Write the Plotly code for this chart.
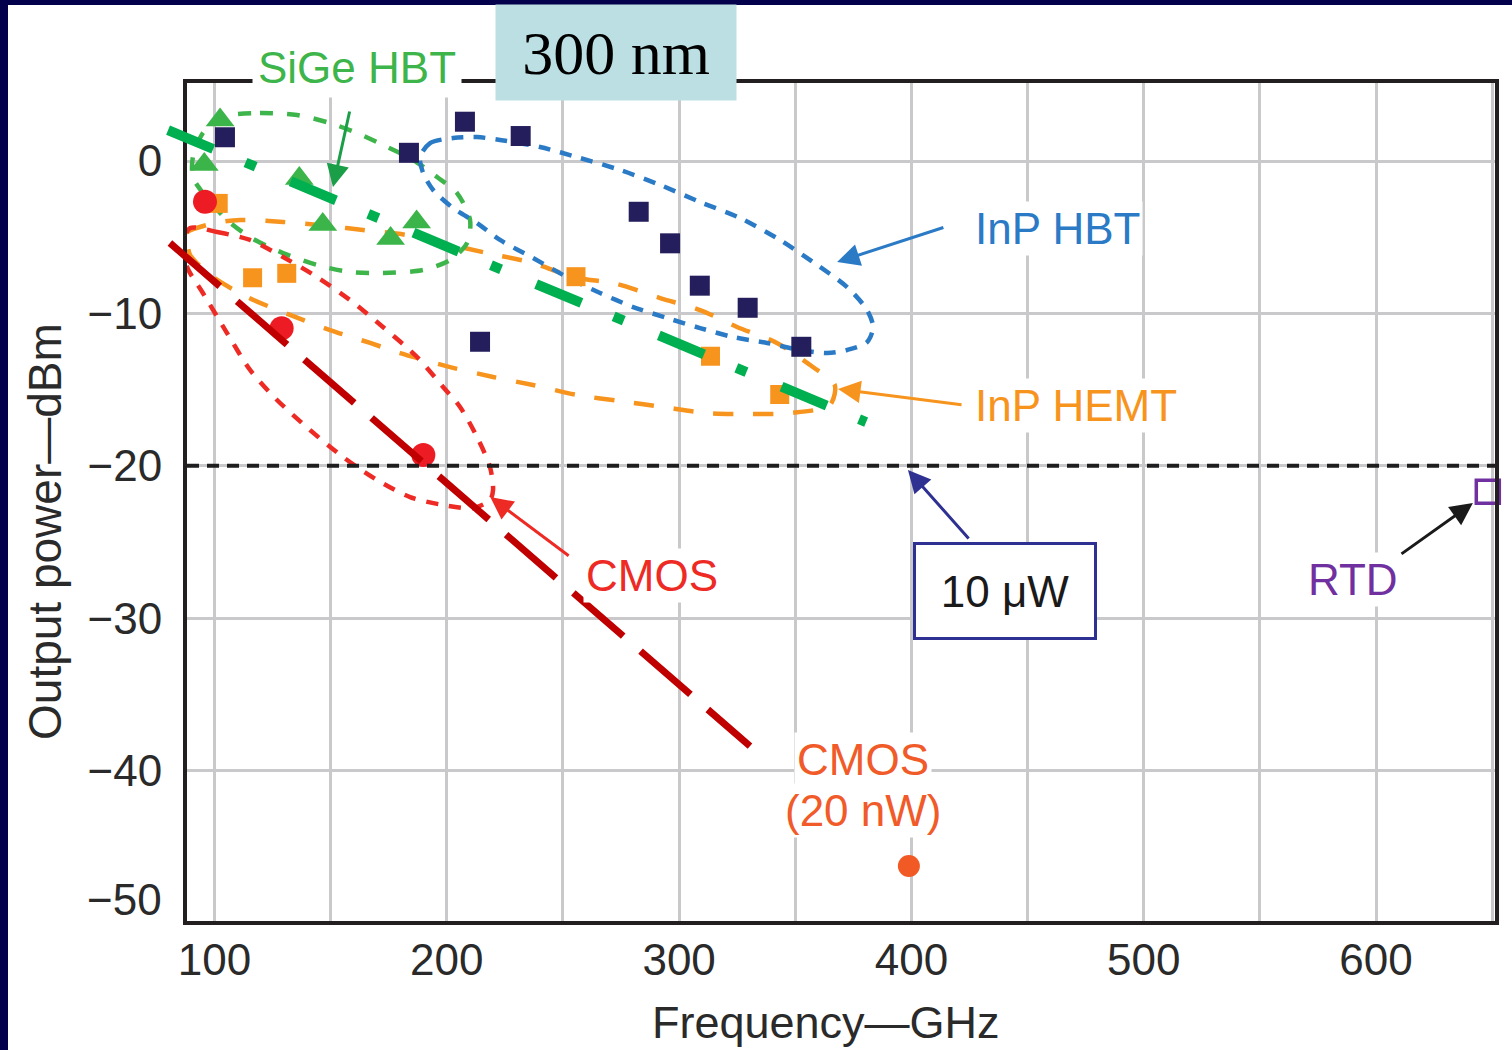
import plotly.graph_objects as go

# ---------------- data ----------------
# InP HBT (navy squares)
hbt_freq = [104.5, 183.7, 207.8, 231.8, 282.6, 296.1, 308.9, 329.5, 352.6, 214.3]
hbt_power = [1.56, 0.54, 2.58, 1.64, -3.33, -5.40, -8.18, -9.63, -12.19, -11.86]
# SiGe HBT (green triangles)
sige_freq = [102.4, 95.6, 136.5, 146.6, 187.0, 175.8]
sige_power = [2.69, -0.23, -1.15, -4.17, -4.00, -5.09]
# InP HEMT (orange squares)
hemt_freq = [101.6, 116.4, 131.1, 255.6, 313.5, 343.3]
hemt_power = [-2.78, -7.66, -7.37, -7.59, -12.81, -15.32]
# CMOS (red circles)
cmos_freq = [95.9, 128.9, 189.9]
cmos_power = [-2.67, -10.98, -19.29]
# CMOS 20 nW
cmos20_freq = [398.9]
cmos20_power = [-46.26]
# RTD
rtd_freq = [648.1]
rtd_power = [-21.7]

# group outlines (hand traced, GHz / dBm)
hbt_ring_f = [188.5, 192.8, 202.7, 213.0, 222.9, 240.1, 257.3, 274.6, 291.8, 309.0, 326.2, 343.4,
              357.6, 372.3, 380.9, 383.5, 380.9, 372.3, 363.7, 352.1, 337.9, 323.2, 309.0, 294.8,
              280.2, 266.0, 251.7, 237.1, 222.9, 213.0, 202.7, 194.1, 189.8, 188.5]
hbt_ring_p = [0.26, 1.18, 1.51, 1.57, 1.38, 0.92, 0.20, -0.59, -1.57, -2.69, -3.74, -5.18,
              -6.63, -8.27, -9.78, -10.89, -11.88, -12.40, -12.60, -12.40, -11.94, -11.55, -10.96, -10.30,
              -9.58, -8.66, -7.61, -6.36, -5.18, -4.07, -3.08, -1.90, -0.79, 0.26]
sige_ring_f = [106.7, 119.6, 135.5, 149.7, 161.3, 172.5, 185.5, 195.8, 204.4, 210.0, 208.7, 201.4,
               189.8, 172.5, 158.3, 144.1, 129.5, 115.3, 105.4, 95.0, 90.7, 90.7, 95.0, 101.1, 106.7]
sige_ring_p = [3.02, 3.15, 3.02, 2.49, 1.84, 1.05, 0.07, -1.05, -2.10, -3.87, -5.38, -6.50,
               -7.15, -7.35, -7.28, -6.82, -6.04, -4.99, -3.87, -2.10, -1.05, 0.26, 1.84, 2.69, 3.02]
cmos_ring_f = [89.5, 101.1, 115.3, 129.5, 144.1, 158.3, 172.5, 187.2, 198.4, 205.7, 213.0, 218.6,
               219.9, 218.6, 211.3, 198.4, 184.2, 170.0, 155.3, 141.1, 126.9, 115.3, 105.4, 95.0,
               88.2, 86.4, 89.5]
cmos_ring_p = [-4.40, -4.66, -5.18, -6.30, -7.61, -9.12, -10.89, -12.86, -14.83, -16.14, -18.11, -20.08,
               -21.59, -22.24, -22.77, -22.57, -22.05, -20.93, -19.42, -17.65, -15.68, -13.71, -11.29, -8.66,
               -6.96, -5.38, -4.40]
hemt_ring_f = [86.0, 88.2, 100.2, 111.0, 129.5, 149.7, 163.9, 182.9, 198.4, 217.3, 237.1, 254.3, 273.3,
               291.8, 309.0, 324.9, 342.1, 357.6, 367.0, 364.9, 347.7, 329.2, 312.0, 293.1, 274.6,
               256.0, 237.1, 219.9, 201.4, 179.9, 167.0, 149.7, 132.5, 114.0, 98.1, 89.5, 88.2, 86.0]
hemt_ring_p = [-5.10, -4.66, -4.07, -3.87, -4.00, -4.27, -4.53, -4.86, -5.38, -6.04, -6.69, -7.61, -8.07,
               -8.99, -9.78, -10.89, -11.94, -13.52, -14.70, -16.01, -16.54, -16.60, -16.54, -16.14, -15.75,
               -15.35, -14.70, -14.17, -13.52, -12.60, -11.94, -11.09, -10.10, -8.92, -7.48, -6.17, -5.51, -5.10]

# overlay trend lines (GHz / dBm end points)
sige_trend_f = [80.0, 380.5]
sige_trend_p = [2.03, -17.13]
cmos_trend_f = [80.8, 330.5]
cmos_trend_p = [-5.38, -38.39]

ref_level = -20  # 10 uW

x_ticks = [100, 200, 300, 400, 500, 600]
y_ticks = [0, -10, -20, -30, -40]

X_RANGE = [88.16, 651.2]
Y_RANGE = [-49.87, 5.12]

FONT = "Liberation Sans, Arial, Helvetica, sans-serif"
TXT = "#2a2a2a"


def xd(f):
    return (f - X_RANGE[0]) / (X_RANGE[1] - X_RANGE[0])


def yd(p):
    return (p - Y_RANGE[0]) / (Y_RANGE[1] - Y_RANGE[0])


fig = go.Figure()


def ring(fx, py, color, dash):
    fig.add_trace(go.Scatter(x=fx, y=py, mode="lines",
                             line=dict(color=color, width=4.5, dash=dash, shape="spline", smoothing=0.8),
                             hoverinfo="skip", showlegend=False))


ring(hemt_ring_f, hemt_ring_p, "#f7941d", "20px,20px")
ring(sige_ring_f, sige_ring_p, "#3db54a", "13px,14px")
ring(cmos_ring_f, cmos_ring_p, "#ee2a24", "12px,11px")
ring(hbt_ring_f, hbt_ring_p, "#2a7ac6", "12px,10px")

# markers
fig.add_trace(go.Scatter(x=hemt_freq, y=hemt_power, mode="markers",
                         marker=dict(symbol="square", size=19, color="#f7941d"), showlegend=False))
fig.add_trace(go.Scatter(x=sige_freq, y=sige_power, mode="markers",
                         marker=dict(symbol="triangle-up", size=25, color="#3bb44a"), showlegend=False))
fig.add_trace(go.Scatter(x=hbt_freq, y=hbt_power, mode="markers",
                         marker=dict(symbol="square", size=20, color="#241f5c"), showlegend=False))
fig.add_trace(go.Scatter(x=cmos_freq, y=cmos_power, mode="markers",
                         marker=dict(symbol="circle", size=24, color="#ed1c24"), showlegend=False))
fig.add_trace(go.Scatter(x=cmos20_freq, y=cmos20_power, mode="markers",
                         marker=dict(symbol="circle", size=22, color="#f15a24"), showlegend=False))
fig.add_trace(go.Scatter(x=rtd_freq, y=rtd_power, mode="markers", cliponaxis=False,
                         marker=dict(symbol="square-open", size=23, color="#7030a0", line=dict(width=3.5)),
                         showlegend=False))

shapes = []
# page background (white sheet on navy slide)
shapes.append(dict(type="rect", xref="paper", yref="paper", layer="below",
                   x0=(8 - 187) / 1308, x1=(1530 - 187) / 1308, y0=(921 - 1070) / 838, y1=(921 - 5) / 838,
                   fillcolor="white", line=dict(width=0)))
# 10 uW reference line
shapes.append(dict(type="line", xref="x domain", yref="y", x0=0, x1=1, y0=ref_level, y1=ref_level,
                   line=dict(color="#1e1e1e", width=4, dash="12px,8px"), layer="above"))
# overlay trend lines
shapes.append(dict(type="line", xref="x domain", yref="y domain",
                   x0=xd(cmos_trend_f[0]), x1=xd(cmos_trend_f[1]), y0=yd(cmos_trend_p[0]), y1=yd(cmos_trend_p[1]),
                   line=dict(color="#c00000", width=7, dash="66px,23px"), layer="above"))
shapes.append(dict(type="line", xref="x domain", yref="y domain",
                   x0=xd(sige_trend_f[0]), x1=xd(sige_trend_f[1]), y0=yd(sige_trend_p[0]), y1=yd(sige_trend_p[1]),
                   line=dict(color="#00b050", width=10, dash="49px,35px,11px,38px"), layer="above"))

ann = []


def label(text, f, p, color, size=44, bg="white", **kw):
    d = dict(text=text, x=f, y=p, xref="x", yref="y", showarrow=False, xanchor="center", yanchor="middle",
             font=dict(family=FONT, size=size, color=color), bgcolor=bg, borderpad=2)
    d.update(kw)
    ann.append(d)


def arrow(f0, p0, f1, p1, color):
    ann.append(dict(text="", x=f1, y=p1, ax=f0, ay=p0, xref="x", yref="y", axref="x", ayref="y",
                    showarrow=True, arrowhead=2, arrowsize=1.5, arrowwidth=3, arrowcolor=color, standoff=0))


# SiGe HBT label sits above the frame (paper coordinates so it is not hidden)
ann.append(dict(text="SiGe HBT", xref="paper", yref="paper", x=(357 - 187) / 1308, y=(921 - 67) / 838,
                xanchor="center", yanchor="middle", showarrow=False, bgcolor="white", borderpad=5,
                font=dict(family=FONT, size=44, color="#3db54a")))
label("InP HBT", 462.7, -4.40, "#2a7ac6")
label("InP HEMT", 470.9, -16.01, "#f7941d")
label("CMOS", 288.3, -27.23, "#ee2a24")
label("CMOS", 379.2, -39.30, "#f15a29")
label("(20 nW)", 379.2, -42.59, "#f15a29")
label("RTD", 590.1, -27.49, "#7030a0")
label("10 μW", 440.3, -28.2, "#1a1a1a", bordercolor="#2e3192", borderwidth=3, borderpad=0,
      width=178, height=92)

arrow(158.3, 3.35, 151.0, -1.71, "#1b9e48")
arrow(414.4, -4.33, 368.0, -6.63, "#2a7ac6")
arrow(422.2, -16.0, 368.4, -14.96, "#f7941d")
arrow(253.1, -25.98, 218.7, -22.05, "#ee2a24")
arrow(425.2, -24.87, 398.5, -20.28, "#2e3192")
arrow(610.3, -25.85, 641.7, -22.44, "#1a1a1a")

# -50 label sits just above the bottom edge
ann.append(dict(text="−50", xref="paper", yref="y", x=(164 - 187) / 1308, y=-48.49,
                xanchor="right", yanchor="middle",
                showarrow=False, font=dict(family=FONT, size=44, color=TXT)))
# axis titles
ann.append(dict(text="Output power—dBm", xref="paper", yref="y", x=(45 - 187) / 1308, y=-24.34,
                xanchor="center", yanchor="middle",
                textangle=-90, showarrow=False, font=dict(family=FONT, size=46, color=TXT)))
ann.append(dict(text="Frequency—GHz", xref="x", yref="paper", x=363.2, y=(921 - 1022) / 838,
                xanchor="center", yanchor="middle",
                showarrow=False, font=dict(family=FONT, size=45, color=TXT)))
# 300 nm box
ann.append(dict(text="300 nm", xref="paper", yref="paper", x=(616 - 187) / 1308, y=(921 - 52.5) / 838,
                xanchor="center", yanchor="middle",
                showarrow=False, bgcolor="#bbdfe3", width=240, height=95, borderpad=0,
                font=dict(family="Liberation Serif, Times New Roman, serif", size=62, color="#000000")))

fig.update_layout(
    width=1512, height=1050,
    margin=dict(l=187, r=17, t=83, b=129),
    paper_bgcolor="#03014b", plot_bgcolor="white",
    shapes=shapes, annotations=ann, showlegend=False,
    xaxis=dict(range=X_RANGE, tickvals=x_ticks, ticks="", showgrid=True, gridcolor="#c9c9cc", gridwidth=2.5,
               minor=dict(dtick=50, tick0=0, showgrid=True, gridcolor="#c9c9cc", gridwidth=2.5),
               zeroline=False, showline=True, mirror=True, linecolor="#231f20", linewidth=4,
               tickfont=dict(family=FONT, size=44, color=TXT), ticklabelstandoff=-3),
    yaxis=dict(range=Y_RANGE, tickvals=y_ticks, ticks="", showgrid=True, gridcolor="#c9c9cc", gridwidth=2.5,
               zeroline=False, showline=True, mirror=True, linecolor="#231f20", linewidth=4,
               tickfont=dict(family=FONT, size=44, color=TXT), ticklabelstandoff=12),
)

fig.write_html("out.html", config={"displayModeBar": False})
